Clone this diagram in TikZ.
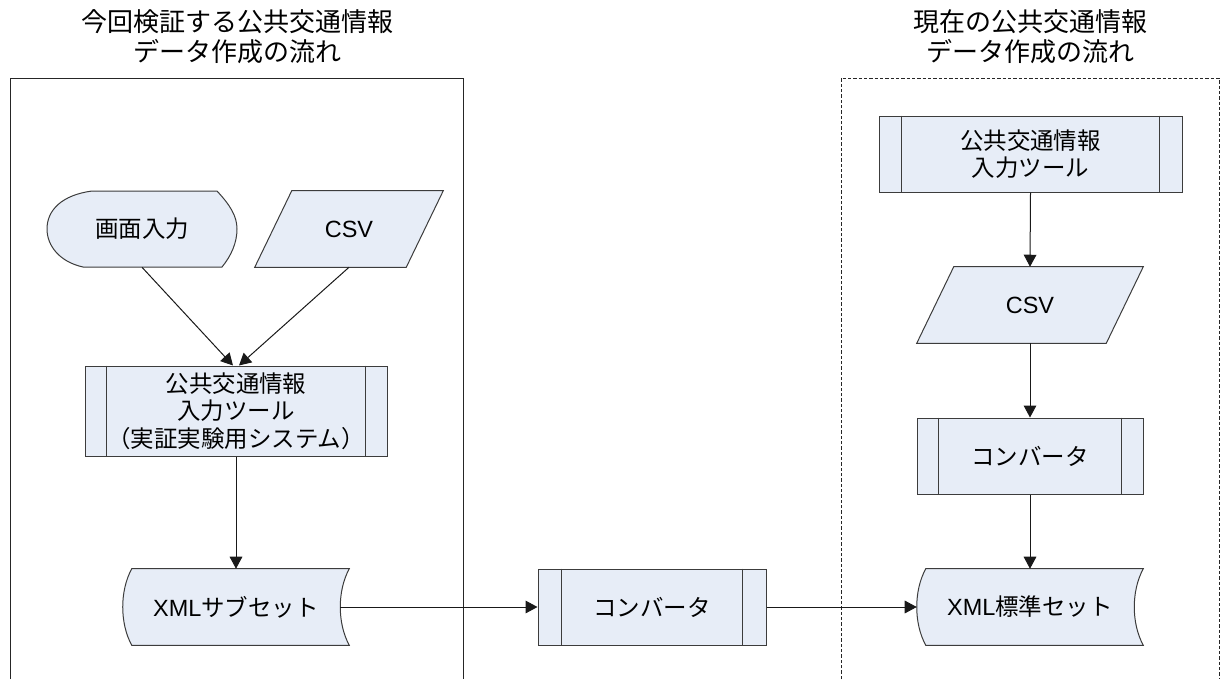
\documentclass[tikz,border=0pt]{standalone}
\usepackage{fontspec}
\setmainfont{Noto Sans CJK JP}
\newfontfamily\latinfnt{Liberation Sans}
\usetikzlibrary{arrows.meta,calc,backgrounds}
\newlength\pxu
\setlength\pxu{0.75pt}
\definecolor{boxfill}{RGB}{231,237,247}
\definecolor{edgecol}{RGB}{60,60,60}
\begin{document}
\begin{tikzpicture}[x=0.75pt,y=-0.75pt,
  lbl/.style={inner sep=0pt, align=center, font=\fontsize{17.6}{20.6}\selectfont},
  ttl/.style={inner sep=0pt, align=center, font=\fontsize{19.5}{22.5}\selectfont},
  shp/.style={draw=edgecol, fill=boxfill, line width=0.75pt},
  procbox/.style={lbl, shp, minimum width=#1},
  holder/.style={lbl, minimum width=#1},
  conn/.style={draw=black!90, line width=0.75pt, -{Triangle[length=9pt,width=9.5pt]}},
  frm/.style={draw=black!85, line width=0.75pt},
  innerline/.style={draw=edgecol, line width=0.75pt}]
\useasboundingbox (0,0) rectangle (1220,679);

% frames
\draw[frm] (10,679) -- (10,78) -- (463,78) -- (463,679);
\draw[frm, dash pattern=on 2.6pt off 1.4pt] (841,679) -- (841,78) -- (1219,78) -- (1219,679);

% titles
\node[ttl] (tL) at (237,37) {今回検証する公共交通情報\\データ作成の流れ};
\node[ttl] (tR) at (1030,37) {現在の公共交通情報\\データ作成の流れ};

% left column
\node[holder=190\pxu, minimum height=76\pxu] (gamen) at (142,229) {画面入力};
\node[holder=188\pxu, minimum height=76\pxu] (csvL) at (349,229) {{\latinfnt CSV}};
\node[procbox=302\pxu, minimum height=90\pxu] (p1) at (236,411) {公共交通情報\\入力ツール\\（実証実験用システム）};
\node[holder=226\pxu, minimum height=76\pxu] (xmlsub) at (236,607) {{\latinfnt XML}サブセット};

% middle
\node[procbox=228\pxu, minimum height=76\pxu] (convM) at (652,607) {コンバータ};

% right column
\node[procbox=303\pxu, minimum height=76\pxu] (pR) at (1030.5,154) {公共交通情報\\入力ツール};
\node[holder=226\pxu, minimum height=76\pxu] (csvR) at (1030,305) {{\latinfnt CSV}};
\node[procbox=226\pxu, minimum height=76\pxu] (convR) at (1030,456) {コンバータ};
\node[holder=226\pxu, minimum height=76\pxu] (xmlstd) at (1030,607) {{\latinfnt XML}標準セット};

% inner lines of process boxes
\foreach \n/\d in {p1/22, convM/24, pR/23, convR/22}{
  \draw[innerline] ($(\n.north west)+(\d,0)$) -- ($(\n.south west)+(\d,0)$);
  \draw[innerline] ($(\n.north east)+(-\d,0)$) -- ($(\n.south east)+(-\d,0)$);
}

% shapes behind text
\begin{scope}[on background layer]
  % display shape
  \path[shp] (92,191) -- (217,191) .. controls (230,205) and (237,216) .. (237,229)
     .. controls (237,243) and (231,256) .. (222,267) -- (83,267)
     .. controls (60,262) and (47,246) .. (47,229)
     .. controls (47,210) and (62,195) .. cycle;
  % parallelograms
  \foreach \n in {csvL, csvR}{
    \path[shp] (\n.south west) -- ($(\n.north west)+(37,0)$) -- (\n.north east)
       -- ($(\n.south east)+(-37,0)$) -- cycle;
  }
  % stored data shapes
  \foreach \n in {xmlsub, xmlstd}{
    \path[shp] ($(\n.north west)+(9,0)$) -- (\n.north east)
       .. controls ($(\n.north east)+(-12,22)$) and ($(\n.south east)+(-12,-22)$) .. (\n.south east)
       -- ($(\n.south west)+(9,0)$)
       .. controls ($(\n.south west)+(-3,-22)$) and ($(\n.north west)+(-3,22)$) .. cycle;
  }
\end{scope}

% connectors
\draw[conn] (gamen.south) -- ($(p1.north)+(-3,0)$);
\draw[conn] (csvL.south) -- ($(p1.north)+(3,0)$);
\draw[conn] (p1.south) -- (xmlsub.north);
\draw[conn] ($(xmlsub.east)+(-9,0)$) -- (convM.west);
\draw[conn] (convM.east) -- (xmlstd.west);
\draw[conn] (pR.south) -- (csvR.north);
\draw[conn] (csvR.south) -- (convR.north);
\draw[conn] (convR.south) -- (xmlstd.north);
\end{tikzpicture}
\end{document}
